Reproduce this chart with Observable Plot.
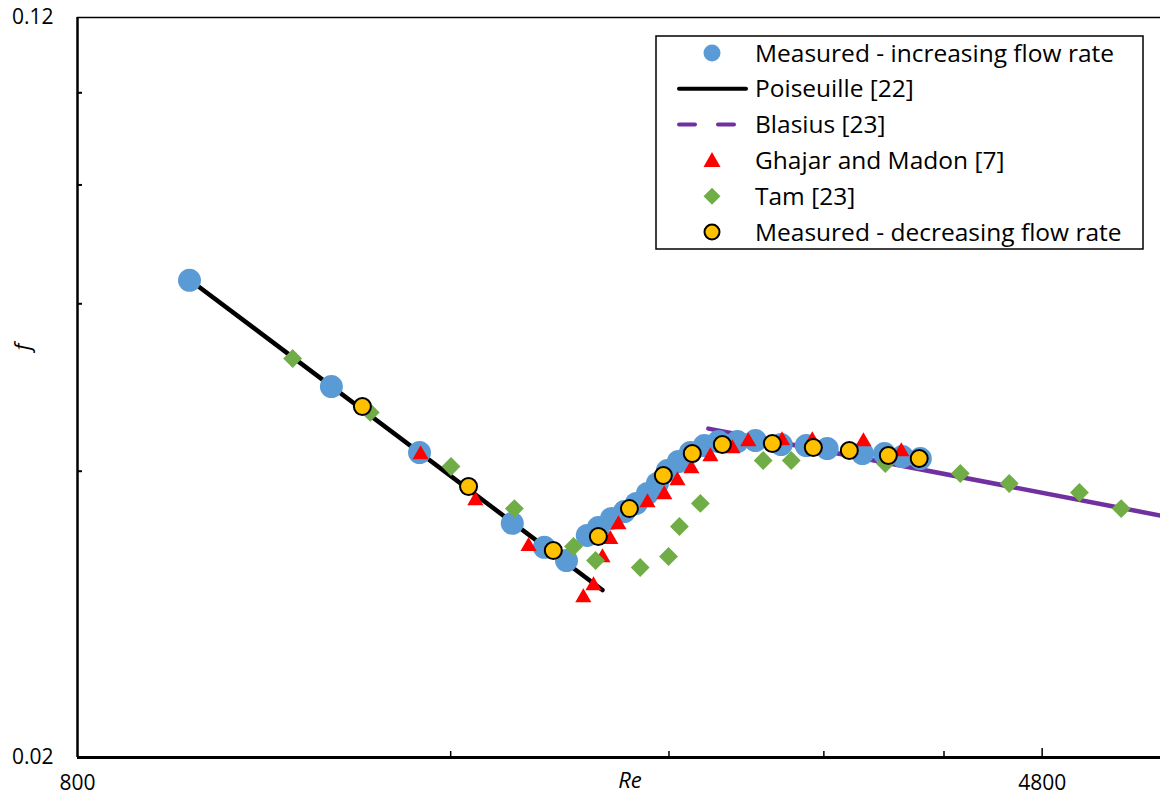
<!DOCTYPE html>
<html>
<head>
<meta charset="utf-8">
<script src="https://cdn.jsdelivr.net/npm/d3@7"></script>
<script src="https://cdn.jsdelivr.net/npm/@observablehq/plot@0.6"></script>
<style>
  html, body { margin: 0; padding: 0; background: #fff; }
  #chart { position: relative; width: 1160px; height: 800px; }
  #chart svg { display: block; }
</style>
</head>
<body>
<div id="chart"></div>
<script>
// ---- Data (Re, friction factor f) ----
const incRe = [985, 1282, 1510, 1794, 1904, 1984, 2062, 2105, 2157, 2209, 2259, 2306, 2349, 2393, 2442, 2497, 2563, 2631, 2725, 2818, 2956, 3097, 3220, 3438, 3581, 3702, 3828];
const incF  = [0.0635, 0.0491, 0.04185, 0.03526, 0.03327, 0.03222, 0.03424, 0.0349, 0.03568, 0.03628, 0.0370, 0.0379, 0.03883, 0.04007, 0.04095, 0.04185, 0.04257, 0.04298, 0.04298, 0.04308, 0.04267, 0.04257, 0.04226, 0.04175, 0.04175, 0.04145, 0.04125];

const decRe = [1358, 1654, 1936, 2105, 2230, 2375, 2506, 2650, 2908, 3138, 3355, 3607, 3820];
const decF  = [0.04679, 0.03855, 0.03301, 0.03415, 0.03654, 0.03959, 0.04175, 0.04267, 0.04278, 0.04236, 0.04206, 0.04155, 0.04125];

const ghajarRe = [1513, 1675, 1849, 2047, 2086, 2121, 2152, 2185, 2306, 2379, 2438, 2502, 2592, 2700, 2781, 2961, 3132, 3444, 3695];
const ghajarF  = [0.04165, 0.03726, 0.03334, 0.02946, 0.03033, 0.03246, 0.03391, 0.03516, 0.03708, 0.0378, 0.03911, 0.04026, 0.04145, 0.04226, 0.04298, 0.04308, 0.04308, 0.04298, 0.04194];

const tamRe = [1193, 1378, 1601, 1801, 2010, 2094, 2275, 2398, 2447, 2544, 2859, 3012, 3587, 4123, 4515, 5144, 5559];
const tamF  = [0.05255, 0.04612, 0.04046, 0.03654, 0.03334, 0.03222, 0.03168, 0.03254, 0.03499, 0.0370, 0.04105, 0.04105, 0.04075, 0.03978, 0.03883, 0.03799, 0.03654];

const poiseuilleRe = [985, 2121];
const poiseuilleF  = [0.0636, 0.0300];

const blasiusRe = [2582, 6000];
const blasiusF  = [0.04435, 0.0359];

const xMinorTicks = [1600, 2400, 3200, 4000];
const xMajorTicks = [800, 4800];
const yMinorTicks = [0.04, 0.06, 0.08, 0.1];
const yMajorTicks = [0.02, 0.12];

const xLabel = "Re";
const yLabel = "f";

const legendItems = [
  {label: "Measured - increasing flow rate", kind: "circle", fill: "#5B9BD5", stroke: "none"},
  {label: "Poiseuille [22]", kind: "line", stroke: "#000000"},
  {label: "Blasius [23]", kind: "dash", stroke: "#7030A0"},
  {label: "Ghajar and Madon [7]", kind: "triangle", fill: "#FF0000"},
  {label: "Tam [23]", kind: "diamond", fill: "#70AD47"},
  {label: "Measured - decreasing flow rate", kind: "circle", fill: "#FFC000", stroke: "#000000"}
];

// ---- Build tables ----
const zipRF = (re, f) => re.map((r, i) => ({re: r, f: f[i]}));
const inc = zipRF(incRe, incF);
const dec = zipRF(decRe, decF);
const ghajar = zipRF(ghajarRe, ghajarF);
const tam = zipRF(tamRe, tamF);
const poiseuille = zipRF(poiseuilleRe, poiseuilleF);
const blasius = zipRF(blasiusRe, blasiusF);

const FONT = "'Open Sans', Lato, sans-serif";

const chart = Plot.plot({
  width: 1160,
  height: 800,
  marginLeft: 77,
  marginRight: 0,
  marginTop: 17,
  marginBottom: 43,
  x: {type: "log", domain: [800, 5980], label: null},
  y: {type: "log", domain: [0.02, 0.12], label: null},
  style: {fontFamily: FONT, fontSize: "21px", color: "#000", background: "#fff", overflow: "visible"},
  marks: [
    Plot.ruleY([0.12], {stroke: "#000", strokeWidth: 1.5}),
    Plot.line(poiseuille, {x: "re", y: "f", stroke: "#000", strokeWidth: 4.5}),
    Plot.line(blasius, {x: "re", y: "f", stroke: "#7030A0", strokeWidth: 4.5}),
    Plot.dot(inc, {x: "re", y: "f", r: 11.5, fill: "#5B9BD5", stroke: "none"}),
    Plot.dot(ghajar, {x: "re", y: "f", symbol: "triangle", r: 6, fill: "#FF0000", stroke: "none"}),
    Plot.dot(tam, {x: "re", y: "f", symbol: "diamond2", r: 8.5, fill: "#70AD47", stroke: "none"}),
    Plot.dot(dec, {x: "re", y: "f", r: 8.5, fill: "#FFC000", stroke: "#000", strokeWidth: 2}),
    Plot.axisX({ticks: xMinorTicks, tickSize: -6, tickFormat: () => "", strokeWidth: 1.5, label: null}),
    Plot.axisX({ticks: [4800], tickSize: -9, tickFormat: () => "", strokeWidth: 1.5, label: null}),
    Plot.axisX({ticks: xMajorTicks, tickSize: 0, tickPadding: 18, tickFormat: d => String(d), fontSize: 21, label: null}),
    Plot.axisY({ticks: yMinorTicks, tickSize: -5, tickFormat: () => "", strokeWidth: 2, label: null}),
    Plot.axisY({ticks: yMajorTicks, tickSize: 0, tickPadding: 24, tickFormat: d => d.toFixed(2), fontSize: 21, label: null}),
    Plot.ruleX([800], {stroke: "#000", strokeWidth: 2.5}),
    Plot.ruleY([0.02], {stroke: "#000", strokeWidth: 3}),
    Plot.text([xLabel], {frameAnchor: "bottom", dx: 11, dy: 30, fontStyle: "italic", fontSize: 22}),
    Plot.text([yLabel], {frameAnchor: "left", dx: -55, dy: -37, rotate: -90, fontStyle: "italic", fontSize: 22})
  ]
});

document.getElementById("chart").appendChild(chart);

// ---- Legend inside the plot area ----
const svg = d3.select(chart);
const lg = svg.append("g").attr("font-family", FONT).attr("font-size", 24.5).attr("text-anchor", "start");
const box = {x: 656, y: 36, w: 487, h: 213};
lg.append("rect").attr("x", box.x).attr("y", box.y).attr("width", box.w).attr("height", box.h)
  .attr("fill", "#fff").attr("stroke", "#000").attr("stroke-width", 1.5);
const rowY0 = 53, rowStep = 35.8, symX = 712, textX = 755;
legendItems.forEach((it, i) => {
  const cy = rowY0 + i * rowStep;
  if (it.kind === "circle") {
    lg.append("circle").attr("cx", symX).attr("cy", cy).attr("r", it.stroke === "none" ? 8.5 : 7.5)
      .attr("fill", it.fill).attr("stroke", it.stroke).attr("stroke-width", 2);
  } else if (it.kind === "line") {
    lg.append("line").attr("x1", 679).attr("x2", 746).attr("y1", cy).attr("y2", cy)
      .attr("stroke", it.stroke).attr("stroke-width", 4).attr("stroke-linecap", "round");
  } else if (it.kind === "dash") {
    lg.append("line").attr("x1", 679).attr("x2", 746).attr("y1", cy).attr("y2", cy)
      .attr("stroke", it.stroke).attr("stroke-width", 4).attr("stroke-linecap", "round")
      .attr("stroke-dasharray", "16 23");
  } else if (it.kind === "triangle") {
    lg.append("path").attr("transform", `translate(${symX},${cy})`)
      .attr("d", "M0,-8.5L8.5,6.5L-8.5,6.5Z").attr("fill", it.fill);
  } else if (it.kind === "diamond") {
    lg.append("path").attr("transform", `translate(${symX},${cy})`)
      .attr("d", "M0,-8.5L8.5,0L0,8.5L-8.5,0Z").attr("fill", it.fill);
  }
  lg.append("text").attr("x", textX).attr("y", cy).attr("dy", "0.35em").attr("fill", "#000")
    .attr("text-anchor", "start").text(it.label);
});
</script>
</body>
</html>
